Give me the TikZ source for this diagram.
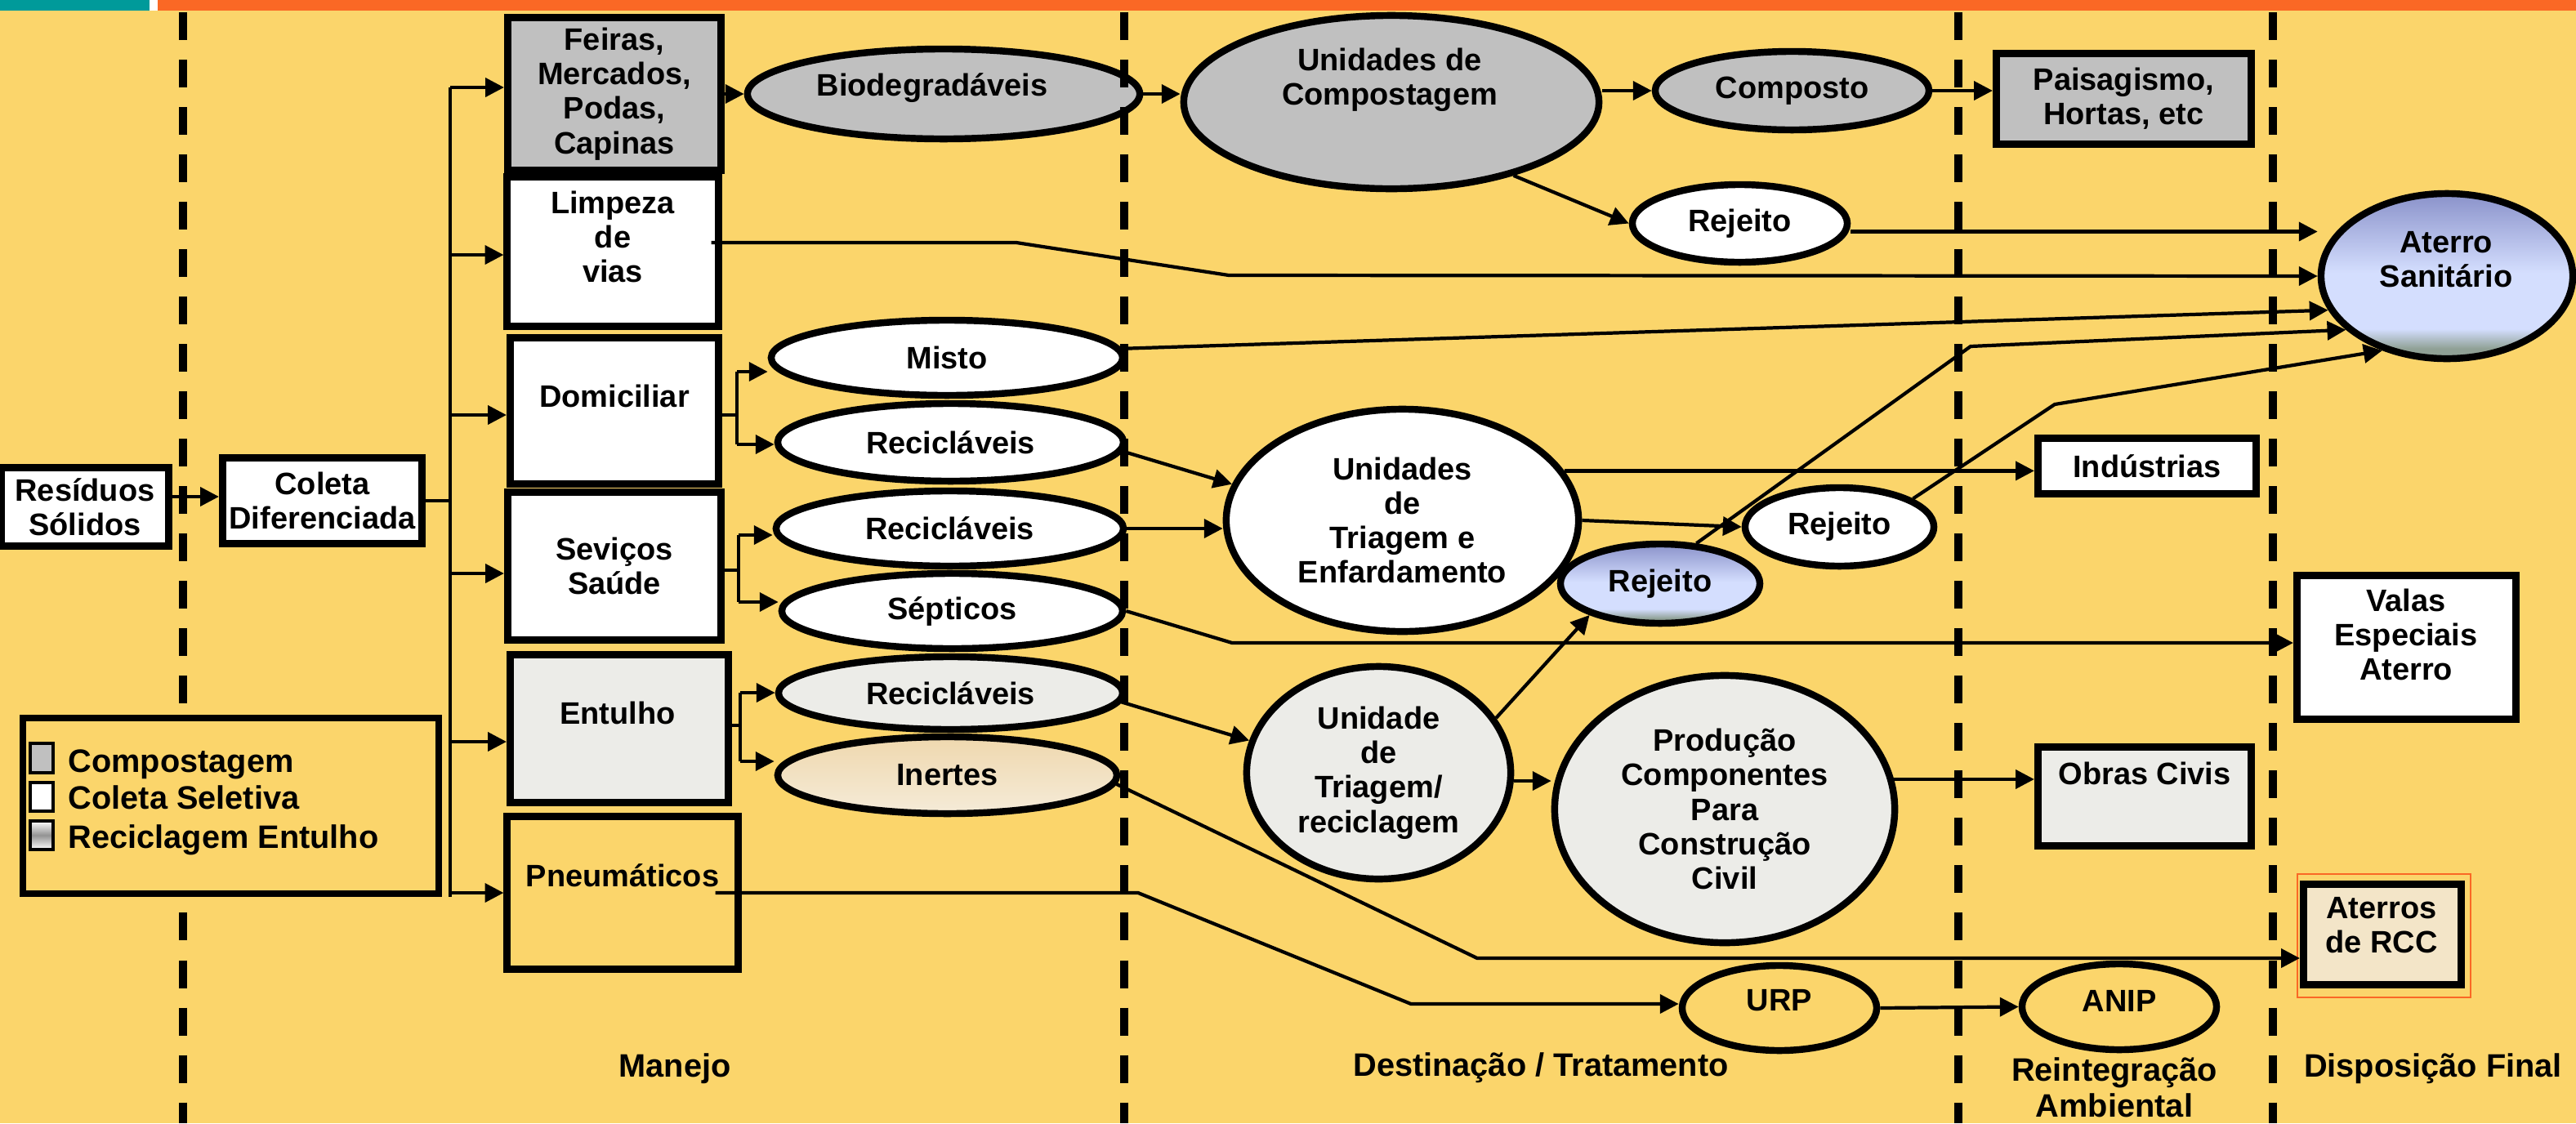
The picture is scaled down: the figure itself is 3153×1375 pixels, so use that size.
\documentclass[tikz,border=0pt]{standalone}
\usepackage{fontspec}
\setmainfont{Liberation Sans}
\usetikzlibrary{arrows.meta,shapes.geometric}
\definecolor{bg}{HTML}{FBD56B}
\definecolor{tealbar}{HTML}{009A9A}
\definecolor{orangebar}{HTML}{FA6825}
\definecolor{gfill}{HTML}{C0C0C0}
\definecolor{marble}{HTML}{ECECE8}
\definecolor{beigeA}{HTML}{EFD8AE}
\definecolor{beigeB}{HTML}{F5EBD8}
\definecolor{rccfill}{HTML}{F3E5C8}
\definecolor{tblue}{HTML}{8A92CA}
\definecolor{lblue}{HTML}{D4DEFE}
\definecolor{gblue}{HTML}{8FA095}
\pgfdeclareverticalshading{bluegrad}{100bp}{color(0bp)=(gblue); color(28bp)=(gblue); color(34bp)=(lblue); color(51bp)=(lblue); color(75bp)=(tblue); color(100bp)=(tblue)}
\begin{document}
\begin{tikzpicture}[x=0.01cm,y=-0.01cm,
  every node/.style={font=\bfseries\fontsize{10.8}{12}\selectfont, inner sep=0pt, align=center},
  bigtxt/.style={font=\bfseries\fontsize{11.3}{12.6}\selectfont},
  box/.style={draw, rectangle, line width=2.56pt},
  oval/.style={draw, ellipse, line width=2.4pt},
  conn/.style={line width=1.2pt},
  arr/.style={line width=1.2pt, -{Triangle[length=6.5pt,width=6.5pt]}},
  divline/.style={line width=2.7pt, dash pattern=on 9.67pt off 6.83pt}]
\useasboundingbox (0,0) rectangle (3153,1375);
\fill[bg] (0,0) rectangle (3153,1375);
\fill[tealbar] (0,0) rectangle (183,13);
\fill[white] (183,0) rectangle (193,13);
\fill[orangebar] (193,0) rectangle (3153,13);

% ---------- boxes ----------
\node[box, fill=white, minimum width=2.04cm, minimum height=0.96cm] (residuos) at (104,620.5) {Resíduos\\Sólidos};
\node[box, fill=white, minimum width=2.44cm, minimum height=1.05cm] (coleta) at (394.5,613) {Coleta\\Diferenciada};
\node[box, fill=gfill, minimum width=2.61cm, minimum height=1.87cm] (feiras) at (752,115) {Feiras,\\Mercados,\\Podas,\\Capinas};
\node[box, fill=white, minimum width=2.58cm, minimum height=1.82cm] (limpeza) at (750,308) {};
\node (limpezaT) at (750,290) {Limpeza\\de\\vias};
\node[box, fill=white, minimum width=2.55cm, minimum height=1.78cm] (domic) at (752,503) {};
\node (domicT) at (752,485) {Domiciliar};
\node[box, fill=white, minimum width=2.61cm, minimum height=1.81cm] (saude) at (752,693) {Seviços\\Saúde};
\node[box, fill=marble, minimum width=2.67cm, minimum height=1.81cm] (entulho) at (758,892) {};
\node (entulhoT) at (756,873) {Entulho};
\node[box, minimum width=2.82cm, minimum height=1.86cm] (pneu) at (762,1093) {};
\node (pneuT) at (762,1072) {Pneumáticos};
\node[box, fill=gfill, minimum width=3.12cm, minimum height=1.11cm] (paisag) at (2599.5,121) {Paisagismo,\\Hortas, etc};
\node[box, fill=white, minimum width=2.67cm, minimum height=0.68cm] (indust) at (2628,570.5) {Indústrias};
\node[box, fill=white, minimum width=2.68cm, minimum height=1.76cm] (valas) at (2945.5,792.5) {};
\node (valasT) at (2945,777) {Valas\\Especiais\\Aterro};
\node[box, fill=marble, minimum width=2.61cm, minimum height=1.21cm] (obras) at (2625,975) {};
\node (obrasT) at (2625,947) {Obras Civis};
\node[draw=orangebar, line width=0.6pt, minimum width=2.12cm, minimum height=1.51cm] (rccframe) at (2918,1145.5) {};
\node[box, fill=rccfill, minimum width=1.93cm, minimum height=1.23cm] (rcc) at (2916,1144) {};
\node (rccT) at (2915,1133) {Aterros\\de RCC};

% ---------- ellipses ----------
\node[oval, fill=gfill, minimum width=4.80cm, minimum height=1.10cm] (biodeg) at (1155,115) {};
\node (biodegT) at (1141,108) {Biodegradáveis};
\node[oval, fill=gfill, minimum width=5.08cm, minimum height=2.12cm] (ucomp) at (1703,125) {};
\node (ucompT) at (1701,98) {Unidades de\\Compostagem};
\node[oval, fill=gfill, minimum width=3.35cm, minimum height=0.96cm] (composto) at (2193.5,111) {Composto};
\node[oval, fill=white, minimum width=2.63cm, minimum height=0.95cm] (rej1) at (2129.5,273.5) {Rejeito};
\node[oval, shading=bluegrad, minimum width=3.08cm, minimum height=2.02cm] (aterro) at (2995,338) {};
\node (aterroT) at (2994,317.5) {Aterro\\Sanitário};
\node[oval, fill=white, minimum width=4.30cm, minimum height=0.92cm] (misto) at (1159,438) {Misto};
\node[oval, fill=white, minimum width=4.23cm, minimum height=0.95cm] (recic1) at (1163.5,541.5) {Recicláveis};
\node[oval, fill=white, minimum width=4.25cm, minimum height=0.92cm] (recic2) at (1162.5,647) {Recicláveis};
\node[oval, fill=white, minimum width=4.17cm, minimum height=0.92cm] (septicos) at (1165.5,748) {Sépticos};
\node[oval, fill=marble, minimum width=4.21cm, minimum height=0.89cm] (recic3) at (1163.5,848.5) {Recicláveis};
\node[oval, top color=beigeA, bottom color=beigeB, minimum width=4.15cm, minimum height=0.94cm] (inertes) at (1159.5,949) {Inertes};
\node[oval, fill=white, minimum width=4.31cm, minimum height=2.72cm] (triagem) at (1716.5,637) {Unidades\\de\\Triagem e\\Enfardamento};
\node[oval, shading=bluegrad, minimum width=2.44cm, minimum height=0.97cm] (rejblue) at (2032,714.5) {Rejeito};
\node[oval, fill=white, minimum width=2.31cm, minimum height=0.96cm] (rej2) at (2251.5,645) {Rejeito};
\node[oval, fill=marble, minimum width=3.23cm, minimum height=2.60cm] (utr) at (1687.5,946) {Unidade\\de\\Triagem/\\reciclagem};
\node[oval, fill=marble, minimum width=4.16cm, minimum height=3.27cm] (producao) at (2111,990.5) {Produção\\Componentes\\Para\\Construção\\Civil};
\node[oval, minimum width=2.38cm, minimum height=1.04cm] (urp) at (2178,1234) {};
\node (urpT) at (2178,1225) {URP};
\node[oval, minimum width=2.38cm, minimum height=1.05cm] (anip) at (2594,1232.5) {};
\node (anipT) at (2594,1225) {ANIP};

% ---------- connectors ----------
\coordinate (rc) at ([yshift=0.125cm]residuos.east);
\draw[arr] (rc) -- (rc -| coleta.west);
\foreach \n/\yy in {feiras/107,limpeza/312,domic/508,saude/702,entulho/908,pneu/1093}{\coordinate (b\n) at (551,\yy);}
\draw[conn] (bfeiras) -- ([yshift=-0.05cm]bpneu);
\draw[conn] (coleta.east) -- (coleta.east -| bfeiras);
\foreach \n in {feiras,limpeza,domic,saude,entulho,pneu}{\draw[arr] (b\n) -- (b\n -| \n.west);}

\draw[arr] (feiras.east) -- (feiras.east -| biodeg.west);
\draw[arr] (biodeg.east) -- (biodeg.east -| ucomp.west);
\draw[arr] (composto.west -| ucomp.east) -- (composto.west);
\draw[arr] (ucomp.-31) -- (rej1.west);
\draw[arr] (composto.east) -- (composto.east -| paisag.west);
\coordinate (r1) at ([yshift=-0.1cm]rej1.east);
\draw[arr] (r1) -- (r1 -| aterro.west);
\coordinate (l0) at ([yshift=0.11cm,xshift=-0.13cm]limpeza.east);
\coordinate (l1) at (1244,297);
\coordinate (l2) at (1504,337);
\draw[arr] (l0) -- (l1) -- (l2) -- (aterro.west);
\draw[arr] (misto.3) -- (aterro.196);
\coordinate (rb1) at (2412,424);
\draw[arr] (rejblue.48) -- (rb1) -- (aterro.208);
\coordinate (rr1) at (2515,495);
\draw[arr] (rej2.21) -- (rr1) -- (aterro.229);

\coordinate (df) at (902,508); \coordinate (dfa) at (902,455); \coordinate (dfb) at (902,544);
\draw[conn] (domic.east |- df) -- (df);
\draw[conn] (dfa) -- (dfb);
\draw[arr] (dfa) -- (dfa -| misto.west);
\draw[arr] (dfb) -- (dfb -| recic1.west);
\coordinate (sf) at (904,698); \coordinate (sfa) at (904,655); \coordinate (sfb) at (904,737);
\draw[conn] (saude.east |- sf) -- (sf);
\draw[conn] (sfa) -- (sfb);
\draw[arr] (sfa) -- (sfa -| recic2.west);
\draw[arr] (sfb) -- (sfb -| septicos.west);
\coordinate (ef) at (906,888); \coordinate (efa) at (906,848); \coordinate (efb) at (906,932);
\draw[conn] (entulho.east |- ef) -- (ef);
\draw[conn] (efa) -- (efb);
\draw[arr] (efa) -- (efa -| recic3.west);
\draw[arr] (efb) -- (efb -| inertes.west);

\draw[arr] (recic1.-3) -- (triagem.168);
\draw[arr] (recic2.east) -- (recic2.east -| triagem.west);
\coordinate (sv) at (1508,787);
\draw[arr] (septicos.east) -- (sv) -- (sv -| valas.west);
\draw[arr] (triagem.17) -- (triagem.17 -| indust.west);
\draw[arr] (triagem.east) -- (rej2.west);
\draw[arr] (utr.25) -- (rejblue.204);
\draw[arr] (recic3.-3) -- (utr.166);
\coordinate (up) at ([yshift=-0.1cm]utr.east);
\draw[arr] (up) -- (up -| producao.west);
\draw[arr] (producao.10) -- (producao.10 -| obras.west);
\coordinate (ir) at (1808,1173);
\draw[arr] (inertes.-3) -- (ir) -- (ir -| rcc.west);
\coordinate (p0) at ([xshift=-0.32cm]pneu.east);
\coordinate (p1) at (1393,1093);
\coordinate (p2) at (1727,1229);
\draw[arr] (p0) -- (p1) -- (p2) -- (p2 -| urp.west);
\draw[arr] (urp.east) -- (anip.west);

% ---------- dividers ----------
\foreach \xx in {224,1376,2397,2782}{\draw[divline] (\xx,15) -- (\xx,1375);}

% ---------- legend ----------
\node[draw, fill=bg, line width=2.3pt, minimum width=5.09cm, minimum height=2.15cm] (legend) at (282.5,986.5) {};
\node[draw, line width=1.3pt, fill=gfill, minimum width=0.28cm, minimum height=0.36cm] (lg1) at (51,928) {};
\node[draw, line width=1.3pt, fill=white, minimum width=0.28cm, minimum height=0.35cm] (lg2) at (51,975.5) {};
\node[draw, line width=1.3pt, top color=white, bottom color=white, middle color=gray!85, minimum width=0.28cm, minimum height=0.35cm] (lg3) at (51,1022.5) {};
\node[bigtxt, anchor=base west] (lt1) at (83,945) {Compostagem};
\node[bigtxt, anchor=base west] (lt2) at (83,990) {Coleta Seletiva};
\node[bigtxt, anchor=base west] (lt3) at (83,1038) {Reciclagem Entulho};

% ---------- footer ----------
\node[bigtxt] (manejo) at (826,1308) {Manejo};
\node[bigtxt] (destin) at (1886,1307) {Destinação / Tratamento};
\node[bigtxt] (reint) at (2588,1331) {Reintegração\\Ambiental};
\node[bigtxt] (dispf) at (2978,1308) {Disposição Final};
\end{tikzpicture}
\end{document}
